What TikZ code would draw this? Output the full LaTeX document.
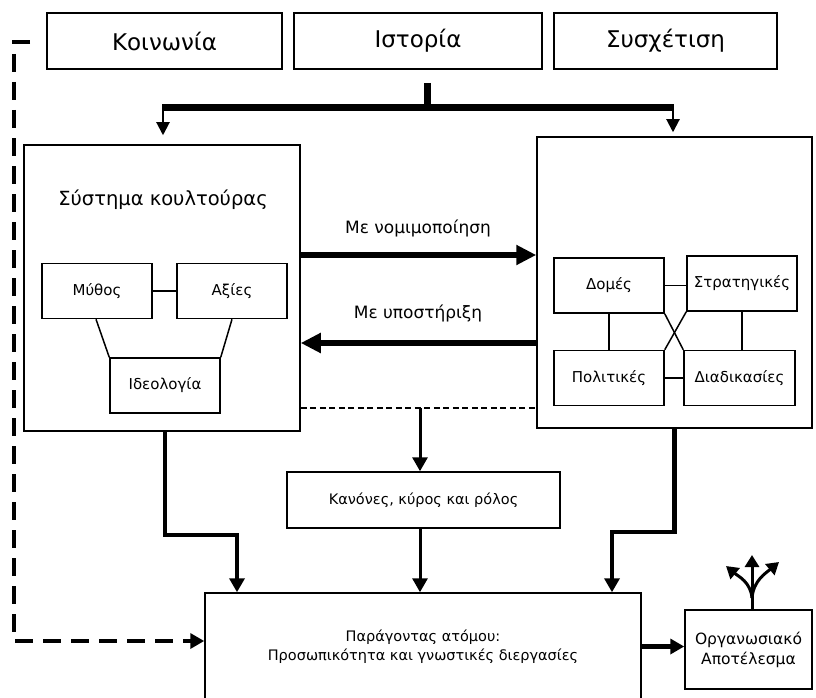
\documentclass[tikz,border=0pt]{standalone}
\usepackage{fontspec}
\setmainfont{DejaVu Sans}
\usetikzlibrary{arrows.meta,positioning,calc}

\begin{document}
\begin{tikzpicture}[x=1pt,y=-1pt,
    box/.style={draw,line width=1.5pt,inner sep=0pt,align=center},
    topbox/.style={box,minimum height=56pt,font=\fontsize{23}{27}\selectfont},
    smallbox/.style={box,minimum width=110pt,minimum height=55pt,font=\fontsize{15}{18}\selectfont},
    lbl/.style={font=\fontsize{17}{20}\selectfont},
    link/.style={line width=1.5pt},
    thinflow/.style={line width=2pt,-{Triangle[length=13pt,width=13pt]}},
    flow/.style={line width=4.5pt,-{Triangle[length=14pt,width=15pt]}},
    forkflow/.style={line width=3pt,-{Triangle[length=12pt,width=14pt]}},
    bigflow/.style={line width=6pt,-{Triangle[length=20pt,width=19pt]}}]
    \useasboundingbox (0,0) rectangle (816,698);
    % top row
    \node[topbox,minimum width=235pt] (soc) at (164.5,41) {Κοινωνία};
    \node[topbox,minimum width=248pt] (hist) at (418,41) {Ιστορία};
    \node[topbox,minimum width=223pt] (corr) at (665.5,41) {Συσχέτιση};
    % culture system
    \node[box,minimum width=276pt,minimum height=286pt] (cult) at (162,288) {};
    \node[font=\fontsize{19.5}{23}\selectfont] (culttitle) at (163,200) {Σύστημα κουλτούρας};
    \node[smallbox] (myth) at (97,291) {Μύθος};
    \node[smallbox] (val) at (232,291) {Αξίες};
    \node[smallbox] (ideo) at (165,385.5) {Ιδεολογία};
    % structure side
    \node[box,minimum width=275pt,minimum height=291pt] (org) at (674.5,282.5) {};
    \node[smallbox] (dom) at (609,285.5) {Δομές};
    \node[smallbox] (strat) at (742,283.5) {Στρατηγικές};
    \node[smallbox] (pol) at (609,378) {Πολιτικές};
    \node[smallbox,minimum width=111pt] (proc) at (739.5,378) {Διαδικασίες};
    % lower part
    \node[box,minimum width=273pt,minimum height=56pt,font=\fontsize{14.5}{18}\selectfont] (rules) at (423.5,500) {Κανόνες, κύρος και ρόλος};
    \node[box,minimum width=436pt,minimum height=107pt,font=\fontsize{14.5}{19}\selectfont] (ind) at (423,646.5) {Παράγοντας ατόμου:\\Προσωπικότητα και γνωστικές διεργασίες};
    \node[box,minimum width=127pt,minimum height=79pt,font=\fontsize{15.5}{20}\selectfont] (out) at (748.5,649.5) {Οργανωσιακό\\Αποτέλεσμα};

    % split from history
    \coordinate (stemtop) at (427,83);
    \coordinate (split) at (427,108);
    \coordinate (splitl) at (163,108);
    \coordinate (splitr) at (673,108);
    \draw[line width=7pt] (stemtop) -- (split);
    \draw[line width=7pt] ([xshift=-1pt]splitl) -- ([xshift=1pt]splitr);
    \draw[thinflow,shorten >=9pt] (splitl) -- (splitl |- cult.north);
    \draw[thinflow,shorten >=4pt] (splitr) -- (splitr |- org.north);

    % between the two systems
    \draw[bigflow] (cult.east |- 0,255) -- (org.west |- 0,255);
    \draw[bigflow] (org.west |- 0,343) -- (cult.east |- 0,343);
    \node[lbl] (legit) at (418,228) {Με νομιμοποίηση};
    \node[lbl] (supp) at (418,313) {Με υποστήριξη};
    \draw[line width=1.2pt,dash pattern=on 6pt off 3.5pt] (cult.east |- 0,408) -- (org.west |- 0,408);
    \coordinate (mid) at (420,408);
    \draw[line width=3pt,-{Triangle[length=14pt,width=15pt]}] (mid) -- (mid |- rules.north);
    \draw[line width=3pt,-{Triangle[length=14pt,width=15pt]}] (rules.south -| mid) -- (mid |- ind.north);

    % into the individual
    \draw[flow] (cult.south -| 165,0) -- (165,535) -| ([xshift=-186pt]ind.north);
    \draw[flow] (org.south) -- (674.5,532) -| ([xshift=189pt]ind.north);
    \draw[flow] (ind.east) -- (ind.east -| out.west);

    % feedback
    \coordinate (fbstart) at (30,42);
    \coordinate (fbbend) at (14,641);
    \draw[line width=4pt,dash pattern=on 18pt off 10pt,-{Triangle[length=14pt,width=15pt]}] (fbstart) -| (fbbend) -- ([yshift=5.5pt]ind.west);

    % links inside the culture box
    \draw[link] (myth) -- (val);
    \draw[link] ([xshift=-1pt]myth.south) -- (ideo.north west);
    \draw[link] (val.south) -- (ideo.north east);
    % links inside the structure box
    \draw[link] (dom.east) -- (dom.east -| strat.west);
    \draw[link] (dom) -- (pol);
    \draw[link] (strat.south) -- (strat.south |- proc.north);
    \draw[link] (pol.east) -- (pol.east -| proc.west);
    \draw[link] (dom.south east) -- (proc.north west);
    \draw[link] (strat.south west) -- (pol.north east);

    % outcome fork
    \coordinate (fork) at (752,598);
    \coordinate (forkup) at (752,555);
    \coordinate (forkleft) at (726,566);
    \coordinate (forkright) at (779,562);
    \draw[line width=3pt] ([xshift=3.5pt]out.north) -- (fork);
    \draw[forkflow] (fork) -- (forkup);
    \draw[forkflow] (fork) to[out=95,in=-40] (forkleft);
    \draw[forkflow] (fork) to[out=85,in=-140] (forkright);
\end{tikzpicture}
\end{document}
